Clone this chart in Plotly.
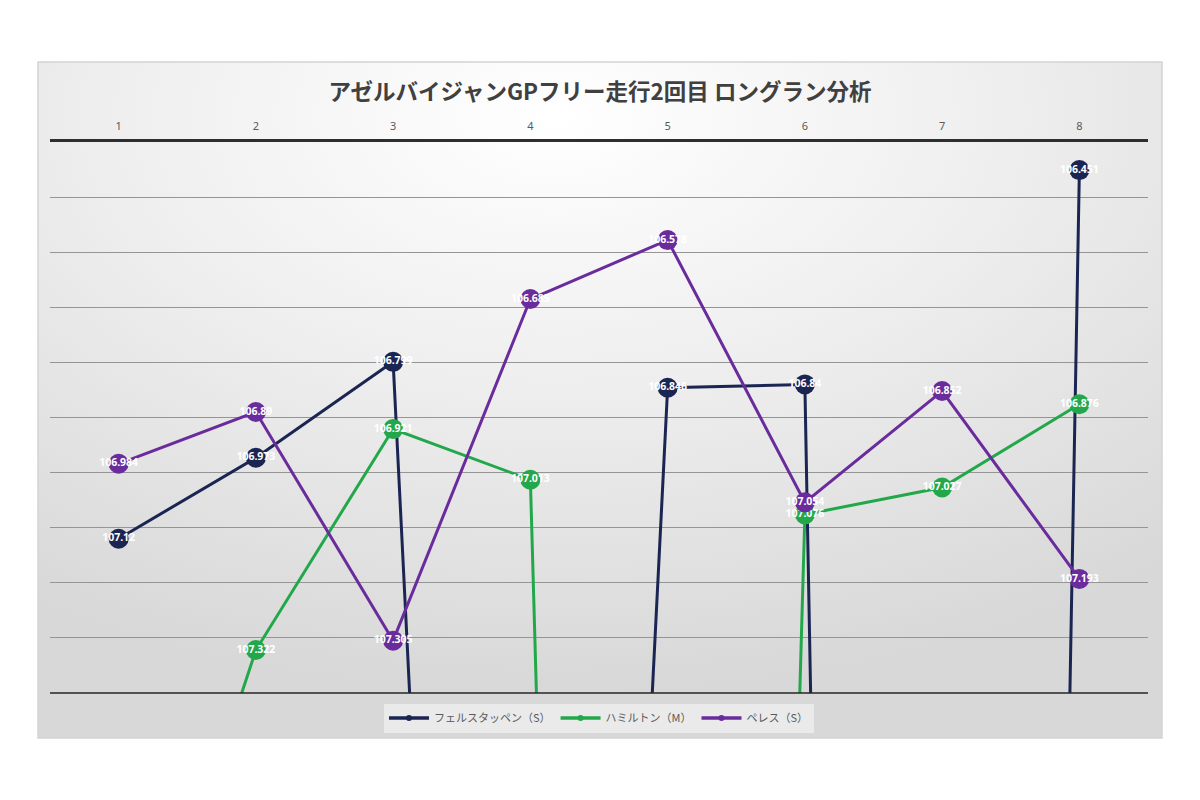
import base64
import plotly.graph_objects as go

# ラップ番号とラップタイム（秒）
laps = ['1', '2', '3', '4', '5', '6', '7', '8']
verstappen = [107.12, 106.973, 106.799, 111.8, 106.846, 106.84, 120.2, 106.451]
hamilton = [108.08, 107.322, 106.921, 107.013, 115.8, 107.076, 107.027, 106.876]
perez = [106.984, 106.89, 107.305, 106.685, 106.578, 107.054, 106.852, 107.193]

drivers = [
    ('フェルスタッペン（S）', verstappen, '#1b2552'),
    ('ハミルトン（M）', hamilton, '#22a84a'),
    ('ペレス（S）', perez, '#6a2c9c'),
]

TITLE = 'アゼルバイジャンGPフリー走行2回目 ロングラン分析'
Y_MIN, Y_MAX = 106.4, 107.4

# 背景のグラデーション（Excel風）
svg = ('<svg xmlns="http://www.w3.org/2000/svg" width="1124" height="676">'
       '<defs><radialGradient id="g" cx="46%" cy="8%" r="85%" '
       'gradientUnits="objectBoundingBox">'
       '<stop offset="0%" stop-color="#ffffff"/>'
       '<stop offset="45%" stop-color="#efefef"/>'
       '<stop offset="100%" stop-color="#d8d8d8"/>'
       '</radialGradient></defs>'
       '<rect width="1124" height="676" fill="url(#g)"/></svg>')
bg_src = 'data:image/svg+xml;base64,' + base64.b64encode(svg.encode()).decode()

fig = go.Figure()

for name, vals, color in drivers:
    # 範囲外（ピットなど）のラベルは表示しない
    labels = [str(v) if Y_MIN <= v <= Y_MAX else '' for v in vals]
    fig.add_trace(go.Scatter(
        x=laps, y=vals, name=name, legendgroup=name, showlegend=False,
        mode='lines+markers+text',
        line=dict(color=color, width=3),
        marker=dict(color=color, size=20),
        text=labels,
        textposition='middle center',
        textfont=dict(color='white', size=10.5, family='Noto Sans', weight='bold'),
        cliponaxis=True,
    ))

# 凡例用（小さいマーカー）
for name, vals, color in drivers:
    fig.add_trace(go.Scatter(
        x=[None], y=[None], name=name, legendgroup=name,
        mode='lines+markers',
        line=dict(color=color, width=3.5),
        marker=dict(color=color, size=6),
    ))

# ページ余白8pxを差し引いた座標。プロット領域: x 50..1148, y 142..693
px_w, px_h = 1098, 551
fig.add_layout_image(dict(
    source=bg_src, xref='paper', yref='paper',
    x=-12 / px_w, y=1 + 80 / px_h,
    sizex=1124 / px_w, sizey=676 / px_h,
    xanchor='left', yanchor='top', sizing='stretch', layer='below',
))
fig.add_shape(type='rect', xref='paper', yref='paper',
              x0=-12 / px_w, x1=1 + 14 / px_w,
              y0=-45 / px_h, y1=1 + 80 / px_h,
              line=dict(color='#d4d4d4', width=1.5), layer='below')
fig.add_shape(type='line', xref='paper', yref='paper',
              x0=0, x1=1, y0=0, y1=0,
              line=dict(color='#262626', width=1.5))

fig.update_layout(
    width=1184, height=784,
    margin=dict(l=42, r=44, t=134, b=99),
    paper_bgcolor='white',
    plot_bgcolor='rgba(0,0,0,0)',
    title=dict(text='<b>' + TITLE + '</b>', x=0.5, xanchor='center',
               y=1 - 84 / 784, yanchor='middle',
               font=dict(family='Noto Sans CJK JP', size=22.5, color='#404040')),
    font=dict(family='Noto Sans CJK JP', color='#595959'),
    xaxis=dict(type='category', categoryorder='array', categoryarray=laps,
               range=[-0.5, 7.5], side='top', showline=True,
               linecolor='#2e2e2e', linewidth=2.5, showgrid=False,
               ticks='', ticklabelstandoff=5,
               tickfont=dict(family='Noto Sans', size=11, color='#595959')),
    yaxis=dict(range=[Y_MAX, Y_MIN], dtick=0.1, showgrid=True,
               gridcolor='#959595', gridwidth=1, showticklabels=False,
               zeroline=False, showline=False, ticks=''),
    legend=dict(orientation='h', x=0.5, xanchor='center',
                y=-25 / px_h, yanchor='middle', itemwidth=40,
                bgcolor='rgba(240,240,240,0.75)',
                font=dict(family='Noto Sans CJK JP', size=11, color='#595959')),
    showlegend=True,
)

fig.write_html("out.html")
